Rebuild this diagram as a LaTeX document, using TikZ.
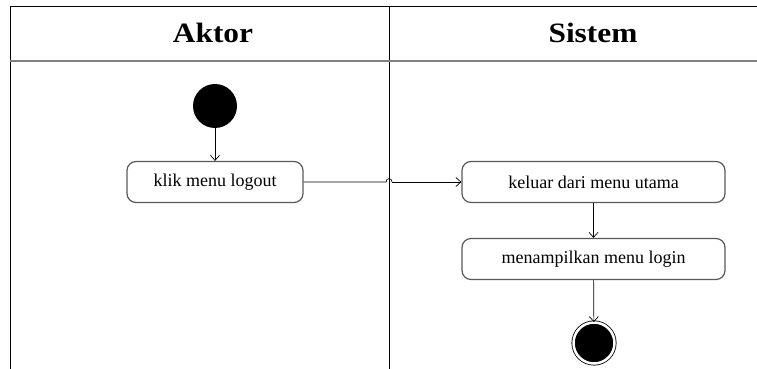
\documentclass[tikz,border=0pt]{standalone}
\usepackage{fontspec}
\setmainfont{Liberation Serif}
\usetikzlibrary{arrows.meta}
\newcommand{\adlaneheader}[3] {\node at (#1) (#2) [anchor=base, xscale=1.12, font=\bfseries\fontsize{28}{30}\selectfont] {#3};}
\newcommand{\adactivity}[4] {\node at (#1) (#2) [draw=black!65, line width=1.2pt, rounded corners=9pt, minimum width=#4, minimum height=41pt, font=\fontsize{18}{20}\selectfont] {#3};}
\newcommand{\adstartnode}[2] {\node at (#1) (#2) [circle, fill=black, minimum size=44pt, inner sep=0pt] {};}
\newcommand{\adendnode}[2] {\node at (#1) (#2) [circle, fill=black, draw=black, line width=0.8pt, double=white, double distance=2.5pt, minimum size=41pt, inner sep=0pt] {};}
\newcommand{\adtransition}[2] {\draw [-{Straight Barb[length=5pt, width=9pt]}, line width=0.7pt] (#1) -- (#2);}

\begin{document}
\begin{tikzpicture}[x=1pt, y=-1pt]
\useasboundingbox (0,0) rectangle (757,369);

\draw [line width=1pt] (10,369) -- (10,7) -- (757,7);
\draw [line width=1pt] (389,7) -- (389,369);
\draw [black!50, line width=2pt] (10,61) -- (757,61);

\adlaneheader {213,43}{aktor}{Aktor};
\adlaneheader {593,43}{sistem}{Sistem};

\adstartnode {215,106}{start};
\adactivity {215,182}{logout}{klik menu logout}{176pt};
\adactivity {593.5,182}{keluar}{keluar dari menu utama}{263pt};
\adactivity {593.5,259}{login}{menampilkan menu login}{263pt};
\adendnode {594,343}{end};

\coordinate (hopin) at (386,182);
\coordinate (hopout) at (392,182);

\adtransition{start}{logout};
\draw [line width=0.7pt] (logout.east) -- (hopin) .. controls (386,177.5) and (392,177.5) .. (hopout);
\adtransition{hopout}{keluar.west};
\adtransition{keluar}{login};
\adtransition{login}{end};

\end{tikzpicture}
\end{document}
